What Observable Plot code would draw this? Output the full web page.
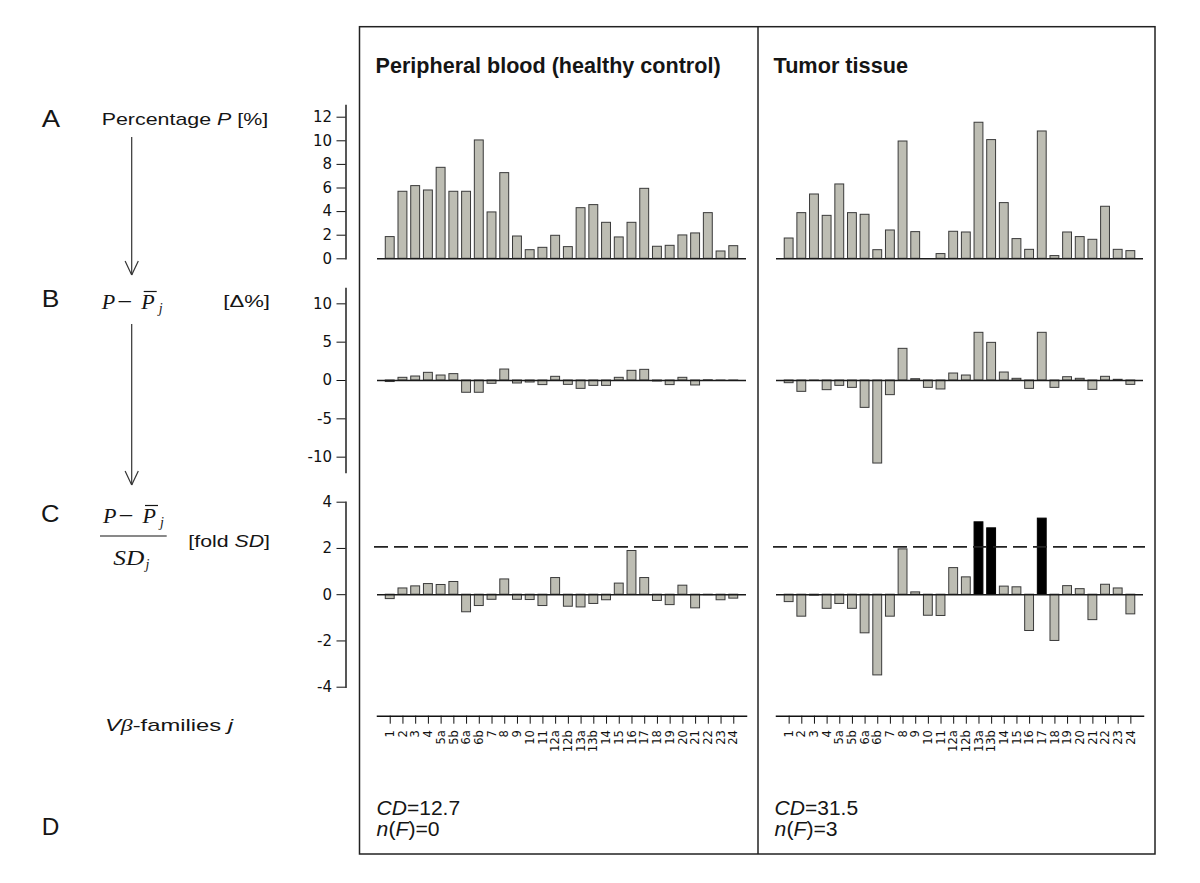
<!DOCTYPE html>
<html>
<head>
<meta charset="utf-8">
<script src="https://cdn.jsdelivr.net/npm/d3@7"></script>
<script src="https://cdn.jsdelivr.net/npm/@observablehq/plot@0.6"></script>
<style>
  html, body { margin: 0; padding: 0; background: #ffffff; }
  #fig { position: relative; width: 1200px; height: 883px; overflow: hidden; background: #ffffff; }
  #fig > svg, #fig > figure { position: absolute; margin: 0; }
</style>
</head>
<body>
<div id="fig"></div>
<script>
// ---------------- data ----------------
const families = ["1","2","3","4","5a","5b","6a","6b","7","8","9","10","11","12a","12b","13a","13b","14","15","16","17","18","19","20","21","22","23","24"];

// A: percentage P [%]
const bloodPercent = [1.84,5.68,6.16,5.79,7.71,5.68,5.68,10.03,3.93,7.26,1.89,0.73,0.93,1.95,0.99,4.29,4.55,3.05,1.81,3.05,5.93,1.02,1.10,1.98,2.15,3.87,0.62,1.07];
const tumorPercent = [1.72,3.87,5.45,3.64,6.30,3.87,3.73,0.73,2.40,9.94,2.26,0,0.40,2.29,2.23,11.53,10.06,4.72,1.67,0.76,10.79,0.23,2.23,1.84,1.61,4.41,0.76,0.65];

// B: P - mean P_j [Δ%]
const bloodDelta = [-0.20,0.35,0.52,1.00,0.65,0.83,-1.60,-1.60,-0.43,1.43,-0.39,-0.26,-0.60,0.48,-0.57,-1.09,-0.70,-0.70,0.35,1.26,1.39,-0.13,-0.60,0.35,-0.65,0.03,-0.03,-0.03];
const tumorDelta = [-0.35,-1.48,-0.05,-1.26,-0.70,-0.96,-3.57,-10.83,-1.91,4.13,0.17,-0.96,-1.17,0.91,0.65,6.22,4.91,1.04,0.22,-1.09,6.22,-0.96,0.43,0.22,-1.22,0.48,0.09,-0.57];

// C: (P - mean P_j) / SD_j [fold SD]
const bloodFold = [-0.19,0.27,0.36,0.46,0.42,0.55,-0.76,-0.49,-0.22,0.66,-0.22,-0.23,-0.49,0.72,-0.52,-0.55,-0.40,-0.24,0.48,1.89,0.72,-0.27,-0.45,0.39,-0.59,-0.02,-0.24,-0.17];
const tumorFold = [-0.32,-0.95,-0.04,-0.61,-0.40,-0.61,-1.67,-3.49,-0.95,1.96,0.10,-0.91,-0.92,1.15,0.75,3.13,2.87,0.35,0.32,-1.57,3.29,-2.00,0.37,0.24,-1.10,0.43,0.27,-0.85];

const foldThreshold = 2.07;

const yTicksA = [0,2,4,6,8,10,12];
const yTicksB = [-10,-5,0,5,10];
const yTicksC = [-4,-2,0,2,4];

const panelTitles = ["Peripheral blood (healthy control)", "Tumor tissue"];
const cdValues = ["12.7", "31.5"];
const nfValues = ["0", "3"];

// ---------------- layout ----------------
const barFill = "#bdbdb3";
const barStroke = "#3a3a3a";
const fig = d3.select("#fig");

const sides = {
  left:  {svgLeft: 290, width: 470, x0: 377, x1: 746},
  right: {svgLeft: 760, width: 400, x0: 776, x1: 1143}
};
const rows = {
  A: {top: 95,  height: 175, domain: [0, 13],   pxTop: 104.9, pxBottom: 258.3, ticks: yTicksA, flag: false},
  B: {top: 278, height: 204, domain: [-12, 12], pxTop: 288,   pxBottom: 472,   ticks: yTicksB, flag: false},
  C: {top: 490, height: 210, domain: [-4, 4],   pxTop: 501.7, pxBottom: 686.7, ticks: yTicksC, flag: true}
};
const axisDx = 345.5 - 377;
const xScale = {type: "band", domain: families, paddingInner: 0.3, paddingOuter: 0.65, align: 0.5, round: false};

function place(node, left, top) {
  node.style.position = "absolute";
  node.style.left = left + "px";
  node.style.top = top + "px";
  fig.node().appendChild(node);
}

function barPanel(values, sideKey, rowKey) {
  const s = sides[sideKey], r = rows[rowKey];
  const data = families.map((f, i) => ({family: f, value: values[i], flagged: r.flag && values[i] > foldThreshold}));
  const marks = [
    Plot.barY(data, {
      x: "family", y: "value",
      fill: d => d.flagged ? "#000000" : barFill,
      stroke: d => d.flagged ? "#000000" : barStroke,
      strokeWidth: 1
    })
  ];
  if (r.flag) {
    marks.push(Plot.ruleY([foldThreshold], {stroke: "#222", strokeWidth: 1.6, strokeDasharray: "14,6", insetLeft: -3, insetRight: -2}));
  }
  marks.push(Plot.ruleY([0], {stroke: "#1a1a1a", strokeWidth: 1.6}));
  if (sideKey === "left") {
    marks.push(Plot.frame({anchor: "left", dx: axisDx, stroke: "#111", strokeWidth: 1.4}));
    marks.push(Plot.axisY({
      ticks: r.ticks, dx: axisDx, tickSize: 9, tickPadding: 5,
      fontSize: 15, fontFamily: "DejaVu Sans", color: "#111",
      label: null, tickFormat: d => String(d)
    }));
  }
  const yOpts = {domain: r.domain, label: null};
  if (sideKey !== "left") yOpts.axis = null;
  const chart = Plot.plot({
    width: s.width, height: r.height,
    marginLeft: s.x0 - s.svgLeft, marginRight: s.svgLeft + s.width - s.x1,
    marginTop: r.pxTop - r.top, marginBottom: r.top + r.height - r.pxBottom,
    x: {...xScale, axis: null},
    y: yOpts,
    style: {background: "transparent", overflow: "visible"},
    marks
  });
  place(chart, s.svgLeft, r.top);
}

function xAxisPanel(sideKey) {
  const s = sides[sideKey];
  const top = 700, height = 80, axisY = 715.7;
  const chart = Plot.plot({
    width: s.width, height,
    marginLeft: s.x0 - s.svgLeft, marginRight: s.svgLeft + s.width - s.x1,
    marginTop: 0, marginBottom: top + height - axisY,
    x: {...xScale, label: null},
    style: {background: "transparent", overflow: "visible"},
    marks: [
      Plot.frame({anchor: "bottom", stroke: "#111", strokeWidth: 1.5}),
      Plot.axisX({tickRotate: -90, tickSize: 8, tickPadding: 6, fontSize: 11.5, fontFamily: "DejaVu Sans", color: "#111", label: null})
    ]
  });
  place(chart, s.svgLeft, top);
}

barPanel(bloodPercent, "left", "A");
barPanel(tumorPercent, "right", "A");
barPanel(bloodDelta, "left", "B");
barPanel(tumorDelta, "right", "B");
barPanel(bloodFold, "left", "C");
barPanel(tumorFold, "right", "C");
xAxisPanel("left");
xAxisPanel("right");

// ---------------- overlay: frame, labels, arrows ----------------
const ov = fig.append("svg")
  .attr("width", 1200).attr("height", 883)
  .style("position", "absolute").style("left", "0px").style("top", "0px")
  .style("pointer-events", "none");

const ink = "#151515";
// outer box and divider
ov.append("rect").attr("x", 359.5).attr("y", 26.7).attr("width", 1155 - 359.5).attr("height", 854 - 26.7)
  .attr("fill", "none").attr("stroke", "#222").attr("stroke-width", 1.5);
ov.append("line").attr("x1", 758).attr("x2", 758).attr("y1", 26.7).attr("y2", 854)
  .attr("stroke", "#222").attr("stroke-width", 1.5);

function txt(parts, opts) {
  const t = ov.append("text")
    .attr("x", opts.x).attr("y", opts.y)
    .attr("font-size", opts.size)
    .attr("font-family", opts.family || "Liberation Sans")
    .attr("font-weight", opts.weight || "normal")
    .attr("fill", ink);
  for (const p of parts) {
    const sp = t.append("tspan").text(p.t);
    if (p.i) sp.attr("font-style", "italic");
    if (p.f) sp.attr("font-family", p.f);
  }
  if (opts.len) t.attr("textLength", opts.len).attr("lengthAdjust", "spacingAndGlyphs");
  return t;
}
function line(x1, y1, x2, y2, w, c) {
  ov.append("line").attr("x1", x1).attr("y1", y1).attr("x2", x2).attr("y2", y2)
    .attr("stroke", c || "#333").attr("stroke-width", w || 1.2);
}

// panel titles
txt([{t: panelTitles[0]}], {x: 375.6, y: 72.5, size: 21.5, weight: "bold", len: 345});
txt([{t: panelTitles[1]}], {x: 773.5, y: 72.5, size: 21.5, weight: "bold", len: 134.5});

// row letters
txt([{t: "A"}], {x: 41.7, y: 127.3, size: 23, len: 18.3});
txt([{t: "B"}], {x: 41.7, y: 306.7, size: 23, len: 17.6});
txt([{t: "C"}], {x: 41.0, y: 521.7, size: 23, len: 18.5});
txt([{t: "D"}], {x: 41.7, y: 835.0, size: 23, len: 17.6});

// row A label
txt([{t: "Percentage "}, {t: "P", i: true}, {t: " [%]"}], {x: 101.7, y: 125, size: 17, len: 166.6});

// arrows
function arrow(x, y1, y2) {
  line(x, y1, x, y2, 1.2, "#333");
  line(x - 6.6, y2 - 14, x, y2, 1.2, "#333");
  line(x + 6.6, y2 - 14, x, y2, 1.2, "#333");
}
arrow(131.7, 137, 275);
arrow(131.7, 324, 485);

// formula: P − P̄_j
const serif = "Liberation Serif";
function formulaPminusPbar(x0, base) {
  txt([{t: "P", i: true}], {x: x0, y: base, size: 22, family: serif});
  txt([{t: "\u2212"}], {x: x0 + 15.5, y: base, size: 22, family: serif, len: 15});
  txt([{t: "P", i: true}], {x: x0 + 39.5, y: base, size: 22, family: serif});
  txt([{t: "j", i: true}], {x: x0 + 57, y: base + 4, size: 14, family: serif});
  line(x0 + 42, base - 17.5, x0 + 55, base - 17.5, 1.2, ink);
}
formulaPminusPbar(101.7, 309);
txt([{t: "[\u0394%]"}], {x: 223.3, y: 306.5, size: 17, len: 46.7});

// row C formula
formulaPminusPbar(103, 523);
line(100, 536, 166.7, 536, 1.2, ink);
txt([{t: "SD", i: true}], {x: 113.3, y: 565, size: 22, family: serif, len: 31});
txt([{t: "j", i: true}], {x: 145.5, y: 569, size: 14, family: serif});
txt([{t: "[fold "}, {t: "SD", i: true}, {t: "]"}], {x: 188.3, y: 547, size: 17, len: 81.7});

// x-axis caption
txt([{t: "V", i: true}, {t: "\u03b2", i: true, f: serif}, {t: "-families "}, {t: "j", i: true}], {x: 105, y: 731, size: 17, len: 128});

// row D statistics
[0, 1].forEach(k => {
  const x = k === 0 ? 376.6 : 774.6;
  txt([{t: "CD", i: true}, {t: "=" + cdValues[k]}], {x, y: 815, size: 19.5, len: 83.5});
  txt([{t: "n", i: true}, {t: "("}, {t: "F", i: true}, {t: ")=" + nfValues[k]}], {x, y: 836, size: 19.5, len: 63});
});
</script>
</body>
</html>
